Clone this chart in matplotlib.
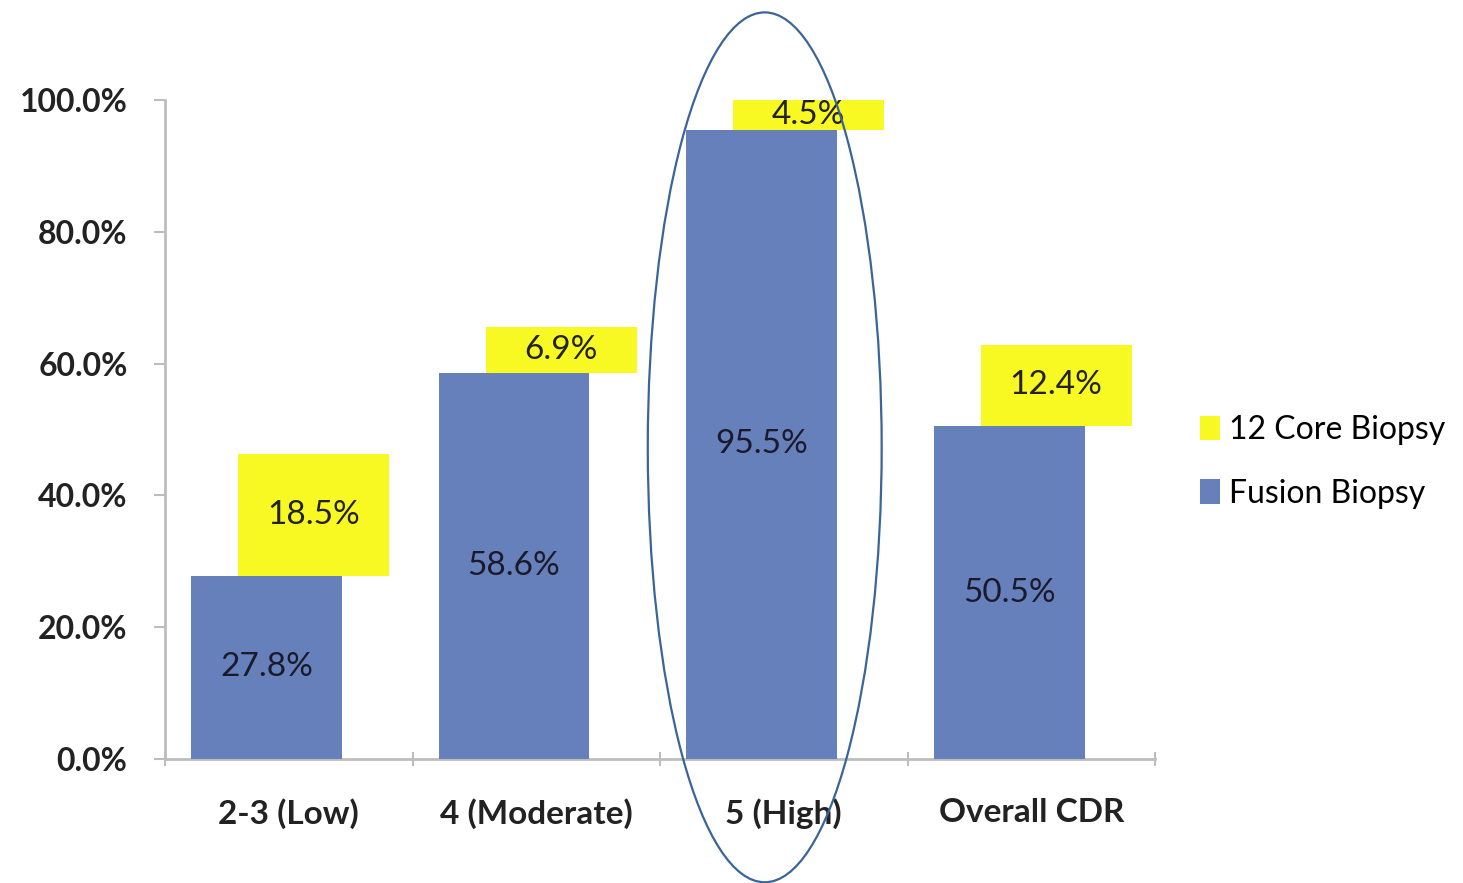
import matplotlib
matplotlib.use('Agg')

import numpy as np
import matplotlib.pyplot as plt
import matplotlib.patches as patches

# Data
categories = ['2-3 (Low)', '4 (Moderate)', '5 (High)', 'Overall CDR']
fusion = [27.8, 58.6, 95.5, 50.5]
core12 = [18.5, 6.9, 4.5, 12.4]
series_names = ['12 Core Biopsy', 'Fusion Biopsy']
y_ticks = [0, 20, 40, 60, 80, 100]

# Styles
COLOR_FUSION = '#6680BC'
COLOR_CORE = '#F8F822'
COLOR_AXIS = '#BDBDBD'
COLOR_RING = '#3A6598'
FONT = 'Lato'
FS = 24
BAR_W = 0.61

plt.rcParams['font.family'] = [FONT, 'DejaVu Sans']

fig = plt.figure(figsize=(14.63, 8.83), dpi=100)
ax = fig.add_axes([0.1128, 0.1404, 0.6767, 0.7463])

x = np.arange(len(categories))
x_blue = x - 0.09
x_yellow = x + 0.10

core_bars = ax.bar(x_yellow, core12, BAR_W, bottom=fusion, color=COLOR_CORE,
                   label=series_names[0], zorder=2)
fusion_bars = ax.bar(x_blue, fusion, BAR_W, color=COLOR_FUSION,
                     label=series_names[1], zorder=3)

for xb, v in zip(x_blue, fusion):
    ax.text(xb, v / 2, f'{v:.1f}%', ha='center', va='center',
            fontsize=FS, color='#1a1a2a', zorder=4)
for xy, b, v in zip(x_yellow, fusion, core12):
    ax.text(xy, b + v / 2, f'{v:.1f}%', ha='center', va='center',
            fontsize=FS, color='#222222', zorder=4)

# ring around the high-risk group
ring = patches.Ellipse((2 - 0.077, 47.3), 0.945, 132, fill=False,
                       edgecolor=COLOR_RING, linewidth=1.6, clip_on=False,
                       zorder=5)
ax.add_patch(ring)

ax.set_xlim(-0.5, len(categories) - 0.5)
ax.set_ylim(0, 100)

ax.set_yticks(y_ticks)
ax.set_yticklabels([f'{t:.1f}%' for t in y_ticks], fontsize=FS - 1,
                   fontweight='bold', color='#222222')

ax.set_xticks(np.arange(len(categories) + 1) - 0.5)
ax.set_xticklabels([])
ax.set_xticks(x, minor=True)
ax.set_xticklabels(categories, minor=True, fontsize=FS, fontweight='bold',
                   color='#222222')

ax.tick_params(axis='x', which='major', length=10, width=1.5,
               color=COLOR_AXIS, direction='inout')
ax.tick_params(axis='x', which='minor', length=0, pad=28)
ax.tick_params(axis='y', length=8, width=1.5, color=COLOR_AXIS, pad=19)

for side in ['top', 'right']:
    ax.spines[side].set_visible(False)
for side in ['left', 'bottom']:
    ax.spines[side].set_color(COLOR_AXIS)
    ax.spines[side].set_linewidth(2)

ax.legend(handles=[core_bars, fusion_bars], labels=series_names,
          loc='upper left', bbox_to_anchor=(0.820, 0.530),
          bbox_transform=fig.transFigure, frameon=False, fontsize=FS - 1,
          handlelength=0.63, handleheight=0.8, handletextpad=0.3,
          labelspacing=1.05, borderpad=0, borderaxespad=0)

fig.savefig('out.png', dpi=100, facecolor='white')
